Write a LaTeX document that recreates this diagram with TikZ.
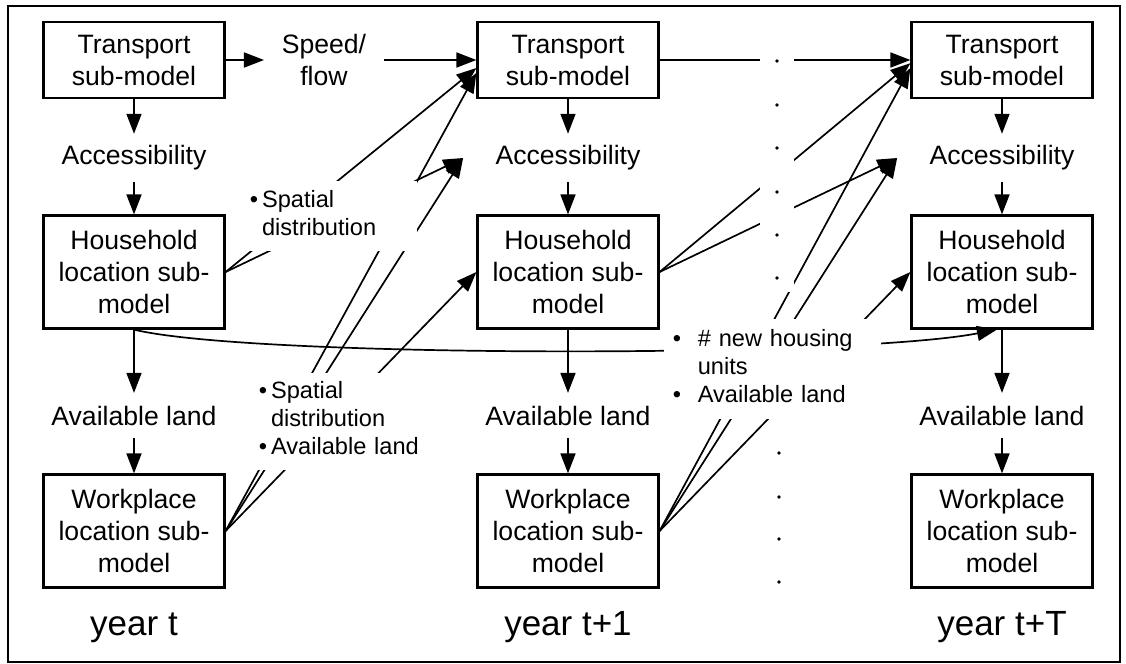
\documentclass[tikz,border=0pt]{standalone}
\usepackage{fontspec}
\setmainfont{Liberation Sans}
\usetikzlibrary{arrows.meta}

\newcommand{\boxfont}{\fontsize{13.3}{16}\selectfont}
\newcommand{\notefont}{\fontsize{11.8}{14}\selectfont}
\newcommand{\yearfont}{\fontsize{17.5}{20}\selectfont}

\begin{document}
\begin{tikzpicture}[x=0.5pt, y=-0.5pt, line width=0.85pt,
    >={Triangle[length=10pt,width=7.5pt]},
    box/.style={draw, line width=1.1pt, minimum width=90.5pt,
        inner sep=0pt, align=center, font=\boxfont},
    short/.style={minimum height=38pt},
    tall/.style={minimum height=56.5pt},
    txt/.style={inner xsep=0pt, inner ysep=6pt, font=\boxfont},
    note/.style={fill=white, anchor=north west, inner sep=2pt,
        align=left, font=\notefont},
    year/.style={anchor=base, font=\yearfont}]

    \useasboundingbox (0,0) rectangle (1126,664);
    \draw[line width=1.3pt] (8,6) rectangle (1120,662);

    % one column per year
    \foreach \x/\n/\yr in {134/1/t, 568/2/t+1, 1002/3/t+T} {
        \node[box, short] (T\n) at (\x,60) {Transport\\sub-model};
        \node[txt, inner ysep=5.5pt, minimum width=104pt] (Acc\n) at (\x,158) {Accessibility};
        \node[box, tall] (H\n) at (\x,272) {Household\\location sub-\\model};
        \node[txt] (AL\n) at (\x,415.5) {Available land};
        \node[box, tall] (W\n) at (\x,531) {Workplace\\location sub-\\model};
        \node[year] (Y\n) at (\x,635) {year \yr};

        \draw[->] (T\n.south) -- (Acc\n.north);
        \draw[->] (Acc\n.south) -- (H\n.north);
        \draw[->] (H\n.south) -- (AL\n.north);
        \draw[->] (AL\n.south) -- (W\n.north);
    }

    \node[txt, inner xsep=8.5pt, inner ysep=0pt, align=center] (SF) at (324,60) {Speed/\\flow};

    \draw[->] (T1.east) -- (SF.west);
    \draw[->] (SF.east) -- (T2.west);
    \draw[->] (T2.east) -- (T3.west);

    % year t -> year t+1
    \draw[->] (H1.east) -- (T2.185);
    \draw[->] (H1.east) -- (Acc2.west);
    \draw[->] (W1.east) -- (T2.188);
    \draw[->] (W1.east) -- (Acc2.west);
    \draw[->] (W1.east) -- (H2.west);

    % year t+1 -> year t+T
    \draw[->] (H2.east) -- (T3.182);
    \draw[->] (H2.east) -- (Acc3.west);
    \draw[->] (W2.east) -- (T3.185);
    \draw[->] (W2.east) -- (Acc3.west);
    \draw[->] (W2.east) -- (H3.west);

    \draw[->] (H1.south) .. controls (250,358) and (850,358) .. (H3.265);

    % labels on the links
    \node[note, text width=81.5pt, minimum height=35pt] (N1) at (245,180)
        {\begin{tabular}{@{}l@{\,}l@{}}\textbullet & Spatial\\ & distribution\end{tabular}};
    \node[note, text width=81.5pt, minimum height=48.5pt] (N2) at (254,372)
        {\begin{tabular}{@{}l@{\,}l@{}}\textbullet & Spatial\\ & distribution\\
        \textbullet & Available land\end{tabular}};
    \node[note, text width=104.5pt, minimum height=50pt] (N3) at (663,318)
        {\begin{tabular}{@{}p{15pt}@{}l@{}}\hspace{2.5pt}\textbullet & \# new housing\\ & units\\
        \hspace{2.5pt}\textbullet & Available land\end{tabular}};

    % dotted break between t+1 and t+T
    \fill[white] (760,45) rectangle (794,292);
    \foreach \y in {61,105,148,192,235,278}
        \fill (777,\y) circle[radius=0.9pt];
    \foreach \y in {453,497,539,582}
        \fill (779,\y) circle[radius=0.9pt];
\end{tikzpicture}
\end{document}
